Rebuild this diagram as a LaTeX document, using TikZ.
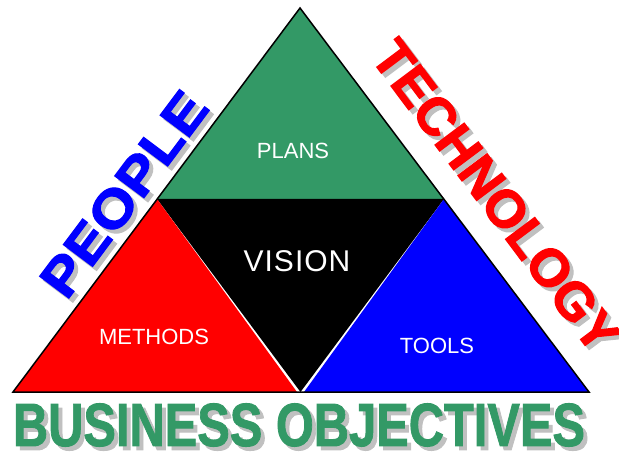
\documentclass[tikz,border=0pt]{standalone}
\usepackage{fontspec}
\setmainfont{Liberation Sans}
\newfontfamily\heavyfont[BoldFeatures={FakeBold=1.5}]{Liberation Sans}
\newfontfamily\sidefont[BoldFeatures={FakeBold=2.2}]{Liberation Sans}
\newfontfamily\widefont[BoldFeatures={FakeBold=2.2,FakeStretch=1.12}]{Liberation Sans}
\definecolor{pgreen}{RGB}{51,153,102}
\definecolor{shadowgray}{RGB}{192,192,192}
\begin{document}
\begin{tikzpicture}[x=1pt,y=-1pt,
  label/.style={text=white,font=\fontsize{22}{22}\selectfont,inner sep=0pt,anchor=center},
  big/.style={font=\sidefont\bfseries\fontsize{53}{53}\selectfont,inner sep=0pt},
  wide/.style={font=\widefont\bfseries\fontsize{53}{53}\selectfont,inner sep=0pt},
  bottomtext/.style={font=\heavyfont\bfseries\fontsize{61}{61}\selectfont,inner sep=0pt,xscale=0.8}]
\path[use as bounding box] (0,0) rectangle (619,457);
% corners
\coordinate (apex) at (300,8);
\coordinate (bl) at (13,392);
\coordinate (br) at (589,392);
\coordinate (ml) at (157,199);
\coordinate (mr) at (444,199);
\coordinate (bm) at (300.5,392);
\coordinate (bmr) at (297,392);
\coordinate (bmb) at (304,392);
% fills
\fill[pgreen] (apex) -- (ml) -- (mr) -- cycle;
\fill[black] (ml) -- (mr) -- (bm) -- cycle;
\fill[red] (bl) -- (ml) -- (bmr) -- cycle;
\fill[blue] (bmb) -- (mr) -- (br) -- cycle;
\draw[black,line width=1.5pt,line join=miter] (apex) -- (bl) -- (br) -- cycle;
% inner labels
\node[label] (plans) at (293,151) {PLANS};
\node[label,font=\fontsize{30}{30}\selectfont] (vision) at (297,261) {V\kern1pt I\kern1pt S\kern1pt I\kern1pt O\kern1pt N};
\node[label] (methods) at (154,337) {METHODS};
\node[label] (tools) at (437,346) {TOOLS};
% side texts with shadows
\node[wide,text=shadowgray,rotate=53.2] (peopleshadow) at (128,198) {PEOPLE};
\node[wide,text=blue,rotate=53.2] (people) at (124,194) {PEOPLE};
\node[big,text=shadowgray,rotate=-53.2] (techshadow) at (500,200) {TECHNOLOGY};
\node[big,text=red,rotate=-53.2] (tech) at (496,196) {TECHNOLOGY};
\node[bottomtext,text=shadowgray] (bizshadow) at (303,429) {BUSINESS OBJECTIVES};
\node[bottomtext,text=pgreen] (biz) at (299,425) {BUSINESS OBJECTIVES};
\end{tikzpicture}
\end{document}
